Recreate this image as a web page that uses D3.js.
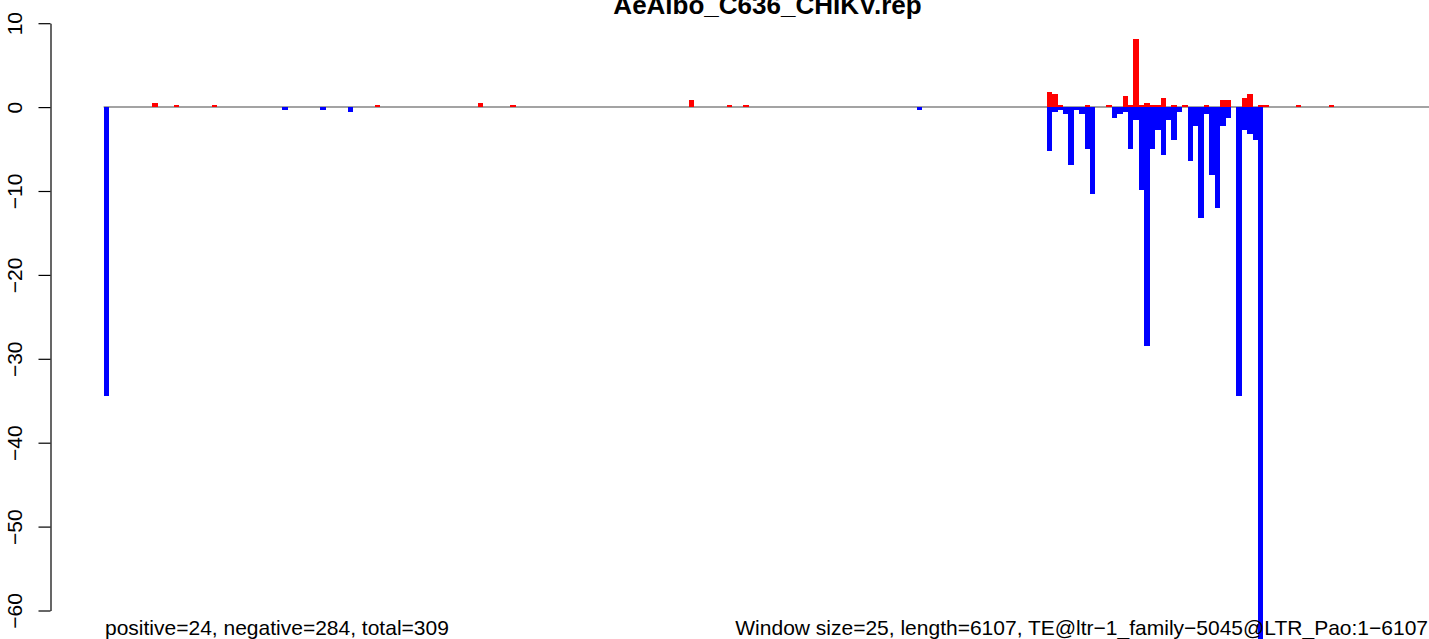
<!DOCTYPE html>
<html>
<head>
<meta charset="utf-8">
<script src="https://cdn.jsdelivr.net/npm/d3@7"></script>
<style>
  html, body { margin: 0; padding: 0; background: #fff; }
  svg { display: block; }
  text { font-family: "Liberation Sans", Arial, Helvetica, sans-serif; fill: #000; }
</style>
</head>
<body>
<script>
const titleText = "AeAlbo_C636_CHIKV.rep";
const leftNote = "positive=24, negative=284, total=309";
const rightNote = "Window size=25, length=6107, TE@ltr\u22121_family\u22125045@LTR_Pao:1\u22126107";
const windowSize = 25;
const seqLength = 6107;
const yTicks = [10, 0, -10, -20, -30, -40, -50, -60];

// window index -> value (sense strand, red)
const posIndex = [9, 13, 20, 50, 69, 75, 108, 115, 118, 174, 175, 176, 181, 185, 188, 189, 190, 191, 192, 193, 194, 195, 197, 199, 203, 206, 207, 210, 211, 213, 214, 220, 226];
const posValues = [0.48, 0.24, 0.24, 0.24, 0.48, 0.24, 0.84, 0.24, 0.24, 1.8, 1.55, 0.24, 0.24, 0.24, 1.31, 0.24, 8.1, 0.24, 0.48, 0.24, 0.24, 1.07, 0.24, 0.24, 0.24, 0.84, 0.84, 1.07, 1.55, 0.24, 0.24, 0.24, 0.24];

// window index -> value (antisense strand, blue)
const negIndex = [0, 33, 40, 45, 150, 174, 175, 176, 177, 178, 179, 180, 181, 182, 186, 187, 188, 189, 190, 191, 192, 193, 194, 195, 196, 197, 198, 200, 201, 202, 203, 204, 205, 206, 207, 209, 210, 211, 212, 213];
const negValues = [-34.4, -0.36, -0.36, -0.6, -0.36, -5.25, -0.6, -0.36, -0.84, -6.9, -0.36, -0.84, -5.0, -10.4, -1.31, -0.84, -0.6, -5.0, -1.55, -9.9, -28.5, -5.0, -2.74, -5.7, -1.55, -3.94, -0.6, -6.44, -2.27, -13.25, -0.84, -8.1, -12.05, -2.27, -1.31, -34.4, -2.74, -3.22, -3.94, -70];

const W = 1429, H = 639;
const svg = d3.select("body").append("svg").attr("width", W).attr("height", H);
svg.append("rect").attr("width", W).attr("height", H).attr("fill", "#fff");

const x = d3.scaleLinear().domain([0, seqLength]).range([103.6, 1427.6]);
const y = d3.scaleLinear().domain([-60, 10]).range([610.5, 23.2]);
const bw = x(windowSize) - x(0);

// zero line
svg.append("line")
  .attr("x1", x(0)).attr("x2", W + 60)
  .attr("y1", y(0)).attr("y2", y(0))
  .attr("stroke", "#a3a3a3").attr("stroke-width", 2);

const pos = posIndex.map((d, i) => ({ i: d, v: posValues[i] }));
const neg = negIndex.map((d, i) => ({ i: d, v: negValues[i] }));

svg.append("g").selectAll("rect").data(pos).join("rect")
  .attr("x", d => x(d.i * windowSize))
  .attr("width", bw)
  .attr("y", d => y(d.v))
  .attr("height", d => y(0) - y(d.v))
  .attr("fill", "#ff0000")
  .attr("shape-rendering", "crispEdges");

svg.append("g").selectAll("rect").data(neg).join("rect")
  .attr("x", d => x(d.i * windowSize))
  .attr("width", bw)
  .attr("y", y(0))
  .attr("height", d => y(d.v) - y(0))
  .attr("fill", "#0000ff")
  .attr("shape-rendering", "crispEdges");

// y axis
const yAxis = d3.axisLeft(y).tickValues(yTicks).tickSize(12).tickSizeOuter(0)
  .tickFormat(d => d3.format("d")(d).replace("-", "\u2212"));
const gy = svg.append("g").attr("transform", "translate(50.5,0)").call(yAxis);
gy.attr("font-family", null).attr("font-size", null);
gy.select(".domain").attr("stroke", "#000").attr("stroke-width", 1.2);
gy.selectAll(".tick line").attr("stroke", "#000").attr("stroke-width", 1.2);
gy.selectAll(".tick text")
  .attr("transform", "rotate(-90)")
  .attr("x", 0).attr("y", -28.5).attr("dy", null)
  .attr("text-anchor", "middle")
  .style("font-size", "21px");

// title
svg.append("text").attr("x", 767.5).attr("y", 13.5)
  .attr("text-anchor", "middle").style("font-size", "26px").style("font-weight", "bold")
  .text(titleText);

// bottom notes
svg.append("text").attr("x", 105).attr("y", 635)
  .style("font-size", "21px").text(leftNote);
svg.append("text").attr("x", 1428).attr("y", 635).attr("text-anchor", "end")
  .style("font-size", "21px").text(rightNote);
</script>
</body>
</html>
